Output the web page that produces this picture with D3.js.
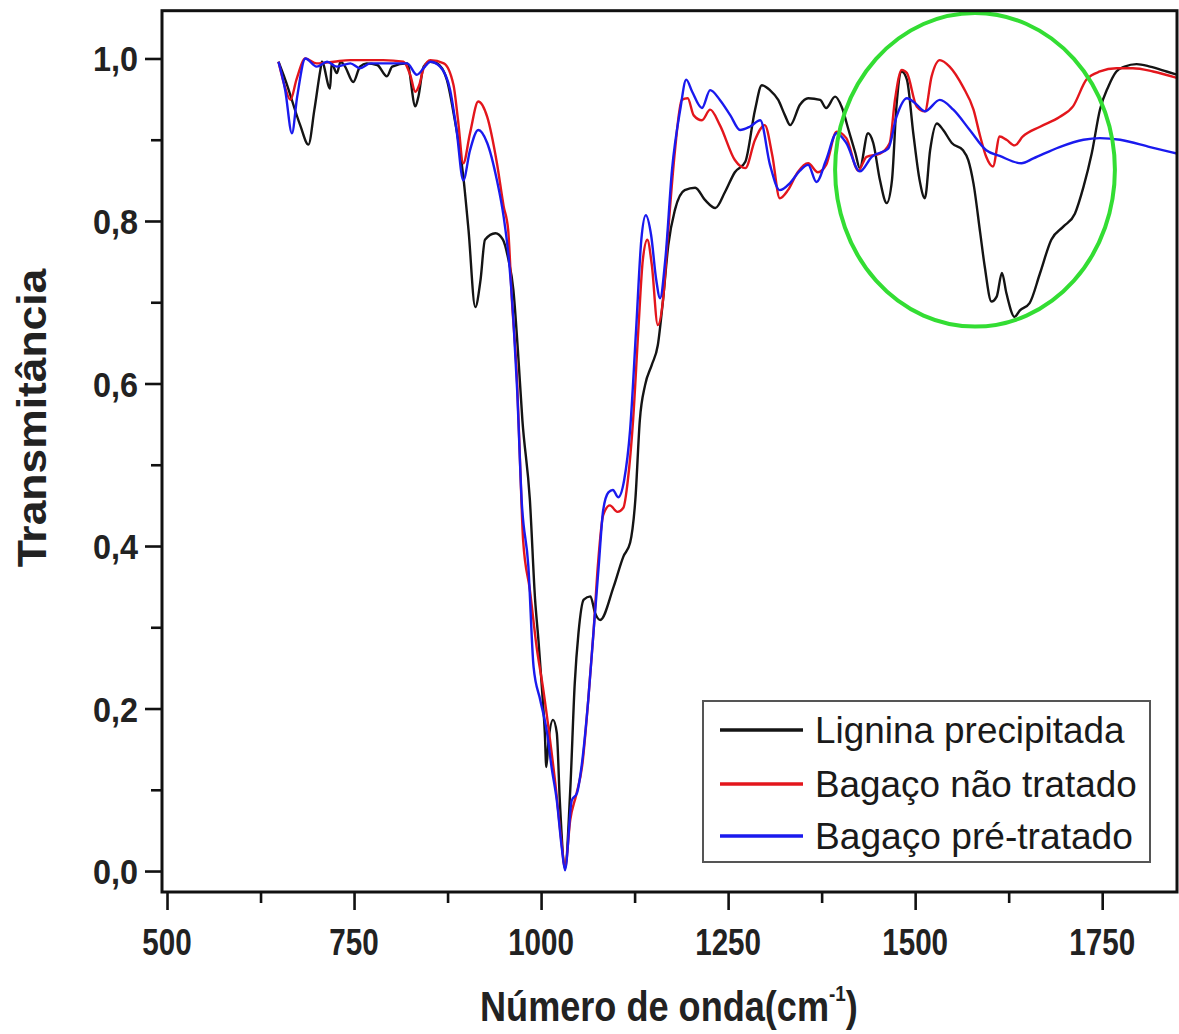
<!DOCTYPE html>
<html><head><meta charset="utf-8">
<script src="https://cdn.jsdelivr.net/npm/d3@7"></script>
<style>body{margin:0;background:#fff}svg{display:block}</style>
</head><body>
<svg id="c" width="1179" height="1034"></svg>
<script>
// ---- data (wavenumber cm-1, transmittance) ----
const lignina = [[649,0.996],[658,0.974],[678,0.918],[689,0.894],[697,0.937],[705,0.986],[707,0.996],[718,0.963],[720,0.994],[727,0.982],[732,0.996],[738,0.990],[749,0.971],[758,0.990],[767,0.994],[781,0.992],[794,0.978],[801,0.990],[821,0.994],[832,0.941],[836,0.953],[843,0.990],[852,0.996],[861,0.994],[874,0.974],[883,0.933],[896,0.855],[903,0.789],[912,0.694],[919,0.727],[925,0.777],[939,0.785],[949,0.777],[956,0.754],[963,0.715],[969,0.641],[975,0.555],[985,0.457],[992,0.334],[996.5,0.284],[1001,0.227],[1005,0.170],[1007,0.128],[1010,0.161],[1016,0.186],[1021,0.170],[1025,0.087],[1032,0.005],[1039,0.100],[1045,0.231],[1050,0.293],[1057,0.334],[1066,0.338],[1072,0.318],[1079,0.309],[1097,0.350],[1110,0.387],[1119,0.404],[1126,0.457],[1132,0.555],[1139,0.598],[1148,0.623],[1156,0.647],[1163,0.703],[1170,0.770],[1179,0.814],[1192,0.838],[1206,0.841],[1219,0.826],[1233,0.816],[1246,0.836],[1259,0.860],[1273,0.873],[1286,0.937],[1295,0.967],[1306,0.961],[1317,0.949],[1326,0.930],[1333,0.918],[1346,0.943],[1357,0.951],[1373,0.949],[1381,0.939],[1393,0.953],[1402,0.940],[1411,0.912],[1420,0.884],[1426,0.865],[1437,0.908],[1444,0.896],[1453,0.850],[1462,0.822],[1469,0.850],[1475,0.941],[1482,0.984],[1489,0.974],[1497.5,0.908],[1506,0.850],[1513,0.828],[1520,0.887],[1529,0.920],[1537.5,0.912],[1549,0.896],[1564,0.887],[1571,0.875],[1578,0.846],[1587,0.785],[1593,0.744],[1602,0.701],[1609,0.707],[1616,0.736],[1622,0.711],[1633,0.682],[1640,0.690],[1653,0.699],[1667,0.736],[1682,0.777],[1698,0.793],[1713.5,0.809],[1725,0.842],[1736,0.883],[1747,0.937],[1758,0.965],[1769,0.984],[1780,0.990],[1796,0.993],[1814,0.990],[1836,0.984],[1850,0.980]];

const bagacoNaoTratado = [[649,0.996],[657,0.967],[665,0.949],[673,0.974],[685,1.000],[700,0.994],[723,0.996],[745,0.998],[789,0.998],[816,0.996],[825,0.980],[832,0.959],[837,0.967],[843,0.988],[852,0.998],[870,0.994],[883,0.967],[889,0.924],[896,0.871],[905,0.908],[916,0.947],[928,0.928],[941,0.871],[950,0.818],[956,0.789],[961,0.703],[968,0.601],[972,0.500],[976,0.407],[985,0.346],[994,0.276],[1003,0.223],[1012,0.161],[1020,0.100],[1027,0.038],[1032,0.004],[1039,0.063],[1047,0.094],[1055,0.130],[1063,0.210],[1070,0.293],[1076,0.377],[1083,0.438],[1092,0.450],[1102,0.442],[1110,0.447],[1116,0.481],[1123,0.555],[1130,0.666],[1136,0.752],[1142,0.777],[1148,0.746],[1156,0.672],[1163,0.703],[1170,0.789],[1179,0.887],[1188,0.949],[1196,0.951],[1204,0.930],[1215,0.924],[1226,0.937],[1239,0.918],[1259,0.875],[1273,0.865],[1286,0.900],[1299,0.918],[1309,0.881],[1319,0.828],[1330,0.838],[1343,0.860],[1357,0.871],[1370,0.860],[1381,0.869],[1395,0.910],[1408,0.902],[1424,0.862],[1435,0.879],[1453,0.883],[1466,0.896],[1473,0.949],[1482,0.986],[1489,0.982],[1502,0.941],[1513,0.935],[1522,0.978],[1533,0.998],[1546,0.990],[1564,0.965],[1578,0.937],[1587,0.904],[1595,0.879],[1604,0.867],[1613,0.904],[1622,0.900],[1633,0.893],[1644,0.904],[1667,0.916],[1693,0.928],[1711,0.941],[1729,0.974],[1747,0.984],[1769,0.988],[1791,0.988],[1818,0.984],[1850,0.976]];

const bagacoPreTratado = [[649,0.996],[658,0.961],[667,0.908],[674,0.953],[685,1.000],[700,0.990],[714,0.996],[727,0.990],[745,0.994],[758,0.988],[772,0.994],[807,0.994],[821,0.994],[834,0.980],[843,0.988],[852,0.996],[865,0.990],[878.5,0.961],[887,0.912],[896,0.850],[905,0.887],[916,0.912],[928,0.896],[941,0.850],[950,0.805],[957,0.752],[963,0.678],[968,0.592],[974,0.457],[983,0.375],[990,0.251],[999,0.210],[1008,0.170],[1014,0.128],[1021,0.087],[1028,0.026],[1032,0.001],[1041,0.087],[1048,0.096],[1054,0.128],[1063,0.210],[1070,0.293],[1077,0.375],[1083,0.444],[1090,0.466],[1096,0.469],[1103,0.460],[1111,0.481],[1119,0.543],[1127,0.666],[1134,0.777],[1140,0.807],[1147,0.783],[1154,0.727],[1159,0.705],[1166,0.752],[1175,0.863],[1186,0.937],[1194,0.974],[1202,0.959],[1215,0.939],[1226,0.961],[1239,0.949],[1253,0.930],[1266,0.912],[1279,0.916],[1293,0.924],[1306,0.869],[1319,0.838],[1333,0.847],[1346,0.862],[1357,0.869],[1368,0.848],[1381,0.875],[1395,0.908],[1408,0.896],[1426,0.861],[1442,0.879],[1464,0.889],[1475,0.928],[1489,0.951],[1500,0.945],[1513,0.935],[1533,0.949],[1551,0.937],[1573,0.912],[1595,0.887],[1613,0.880],[1642,0.871],[1658,0.877],[1693,0.891],[1725,0.900],[1747,0.902],[1774,0.900],[1814,0.891],[1850,0.883]];

const seriesNames = ["Lignina precipitada", "Bagaço não tratado", "Bagaço pré-tratado"];
const seriesColors = ["#141414", "#e3161c", "#1a1aee"];
const xTicks = [500, 750, 1000, 1250, 1500, 1750];
const xTickLabels = ["500", "750", "1000", "1250", "1500", "1750"];
const xMinorTicks = [625, 875, 1125, 1375, 1625];
const yTicks = [0, 0.2, 0.4, 0.6, 0.8, 1.0];
const yTickLabels = ["0,0", "0,2", "0,4", "0,6", "0,8", "1,0"];
const yMinorTicks = [0.1, 0.3, 0.5, 0.7, 0.9];
const highlightCenter = [1580, 0.863];   // wavenumber, transmittance
const highlightRadius = [187, 0.193];

// ---- layout ----
const svg = d3.select("#c");
const L = 162, R = 1177, T = 10.7, B = 892;
const x = d3.scaleLinear().domain([493.3, 1850]).range([L, R]);
const y = d3.scaleLinear().domain([-0.0258, 1.0588]).range([B, T]);

svg.append("rect").attr("width", 1179).attr("height", 1034).attr("fill", "#fff");

svg.append("defs").append("clipPath").attr("id", "clip")
  .append("rect").attr("x", L).attr("y", T).attr("width", R - L).attr("height", B - T);

// curves
const line = d3.line().x(d => x(d[0])).y(d => y(d[1])).curve(d3.curveMonotoneX);
const g = svg.append("g").attr("clip-path", "url(#clip)");
[lignina, bagacoNaoTratado, bagacoPreTratado].forEach((s, i) => {
  g.append("path").datum(s).attr("d", line).attr("fill", "none")
    .attr("stroke", seriesColors[i]).attr("stroke-width", 2.4)
    .attr("stroke-linejoin", "round");
});

// highlight ellipse
svg.append("ellipse")
  .attr("cx", x(highlightCenter[0])).attr("cy", y(highlightCenter[1]))
  .attr("rx", x(highlightCenter[0] + highlightRadius[0]) - x(highlightCenter[0]))
  .attr("ry", y(highlightCenter[1] - highlightRadius[1]) - y(highlightCenter[1]))
  .attr("fill", "none").attr("stroke", "#33dd33").attr("stroke-width", 4);

// axes
const xAxis = d3.axisBottom(x).tickValues(xTicks).tickSize(18).tickFormat("");
const xAxisMinor = d3.axisBottom(x).tickValues(xMinorTicks).tickSize(11).tickFormat("");
const yAxis = d3.axisLeft(y).tickValues(yTicks).tickSize(17).tickFormat("");
const yAxisMinor = d3.axisLeft(y).tickValues(yMinorTicks).tickSize(11).tickFormat("");
[[xAxis, `translate(0,${B})`], [xAxisMinor, `translate(0,${B})`],
 [yAxis, `translate(${L},0)`], [yAxisMinor, `translate(${L},0)`]].forEach(([ax, tr]) => {
  const a = svg.append("g").attr("transform", tr).call(ax);
  a.select(".domain").remove();
  a.selectAll("line").attr("stroke", "#111").attr("stroke-width", 2.6);
});

// frame
svg.append("rect").attr("x", L).attr("y", T).attr("width", R - L).attr("height", B - T)
  .attr("fill", "none").attr("stroke", "#111").attr("stroke-width", 3);

const FONT = "'Liberation Sans', Arial, Helvetica, sans-serif";

// tick labels
xTicks.forEach((v, i) => {
  svg.append("text").attr("transform", `translate(${x(v)},955) scale(0.8,1)`)
    .attr("text-anchor", "middle").attr("font-family", FONT).attr("font-weight", "bold")
    .attr("font-size", 37).attr("fill", "#222").text(xTickLabels[i]);
});
yTicks.forEach((v, i) => {
  svg.append("text").attr("transform", `translate(138,${y(v) + 13}) scale(0.9,1)`)
    .attr("text-anchor", "end").attr("font-family", FONT).attr("font-weight", "bold")
    .attr("font-size", 36).attr("fill", "#222").text(yTickLabels[i]);
});

// axis titles
function fitX(sel, target) {
  const w = sel.node().getBBox().width;
  return target / w;
}
const xt = svg.append("text").attr("font-family", FONT).attr("font-weight", "bold")
  .attr("font-size", 42).attr("fill", "#222");
xt.append("tspan").text("Número de onda(cm");
xt.append("tspan").attr("font-size", 22).attr("dy", -20).text("-1");
xt.append("tspan").attr("dy", 20).text(")");
const sx = fitX(xt, 378);
xt.attr("transform", `translate(480,1021) scale(${sx},1)`);

const yt = svg.append("text").attr("font-family", FONT).attr("font-weight", "bold")
  .attr("font-size", 41).attr("fill", "#222").attr("text-anchor", "middle")
  .text("Transmitância");
const sy = fitX(yt, 300);
yt.attr("transform", `translate(46,418) rotate(-90) scale(${sy},1)`);

// legend
const lg = svg.append("g");
lg.append("rect").attr("x", 703).attr("y", 701).attr("width", 447).attr("height", 161)
  .attr("fill", "#fff").attr("stroke", "#555").attr("stroke-width", 2);
const rowY = [730, 784, 836];
const rowW = [310, 322, 318];
seriesNames.forEach((n, i) => {
  lg.append("line").attr("x1", 720).attr("x2", 803).attr("y1", rowY[i]).attr("y2", rowY[i])
    .attr("stroke", seriesColors[i]).attr("stroke-width", 3.5);
  const t = lg.append("text").attr("font-family", FONT).attr("font-size", 37)
    .attr("fill", "#1a1a1a").text(n);
  const s = fitX(t, rowW[i]);
  t.attr("transform", `translate(815,${rowY[i] + 13}) scale(${s},1)`);
});
</script>
</body></html>
